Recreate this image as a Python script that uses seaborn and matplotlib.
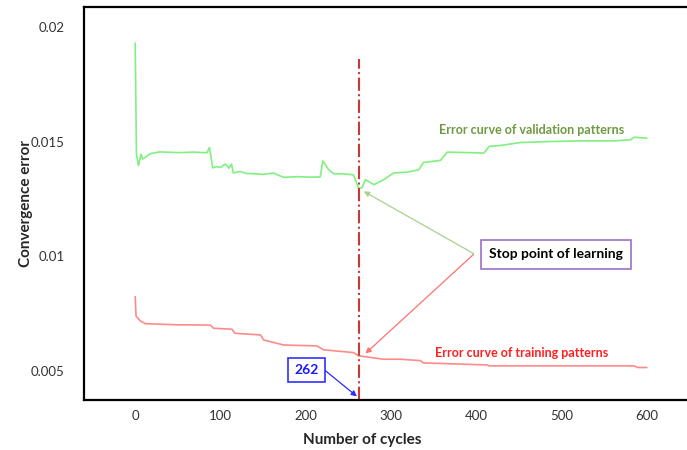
import matplotlib
matplotlib.use("Agg")
import matplotlib.pyplot as plt
import seaborn as sns
import pandas as pd

# ---- data ----
val_cycles = [0, 1.5, 4, 6.7, 9, 17.6, 28.6, 50, 70, 84, 87, 91, 95, 100, 105.6, 110, 113, 115,
              123, 130, 139, 150, 162, 174, 190, 205, 217, 220, 227, 232.7, 245, 256, 262, 266,
              270, 280, 291.5, 303, 319, 332.5, 338, 358, 366, 390, 409, 415, 428, 452, 483,
              522, 561, 581, 585, 600]
val_error = [0.0193, 0.01443, 0.01396, 0.01446, 0.01425, 0.01448, 0.01456, 0.01453, 0.01455,
             0.01452, 0.01475, 0.01386, 0.01392, 0.01388, 0.01403, 0.01385, 0.01403, 0.01364,
             0.01371, 0.01362, 0.01361, 0.01358, 0.01364, 0.01345, 0.01348, 0.01346, 0.01347,
             0.01417, 0.01378, 0.01361, 0.01360, 0.01356, 0.01297, 0.01300, 0.01335, 0.01313,
             0.01335, 0.01364, 0.01368, 0.01378, 0.0141, 0.01419, 0.01455, 0.01453, 0.01451,
             0.0148, 0.01484, 0.01497, 0.01501, 0.01504, 0.01504, 0.01509, 0.0152, 0.01516]

train_cycles = [0, 1, 6, 12, 50, 88, 92, 113.5, 117, 147, 150.6, 174, 213, 221, 256, 262, 291,
                311, 334.5, 338, 413, 415, 585, 589, 600]
train_error = [0.00825, 0.0074, 0.00719, 0.00707, 0.00702, 0.00701, 0.00687, 0.00683, 0.00665,
               0.00658, 0.00636, 0.00614, 0.0061, 0.00593, 0.00581, 0.00567, 0.00552, 0.00552,
               0.00546, 0.00536, 0.00527, 0.00523, 0.00523, 0.00516, 0.00516]

stop_cycle = 263
x_ticks = [0, 100, 200, 300, 400, 500, 600]
y_ticks = [0.005, 0.01, 0.015, 0.02]
y_tick_labels = ["0.005", "0.01", "0.015", "0.02"]

# ---- plotting ----
sns.set_style("white")
plt.rcParams["font.family"] = ["Lato", "DejaVu Sans"]

fig = plt.figure(figsize=(6.87, 4.5), dpi=100)
ax = fig.add_axes([0.1223, 0.111, 0.89, 0.873])

val_df = pd.DataFrame({"cycle": val_cycles, "error": val_error})
train_df = pd.DataFrame({"cycle": train_cycles, "error": train_error})
sns.lineplot(data=val_df, x="cycle", y="error", ax=ax, color="#80f080", lw=1.2)
sns.lineplot(data=train_df, x="cycle", y="error", ax=ax, color="#ff8a8a", lw=1.2)

ax.set_xlim(-60, 657)
ax.set_ylim(0.00374, 0.02087)
ax.set_xticks(x_ticks)
ax.set_xticklabels([str(t) for t in x_ticks], fontsize=9.5, color="#333333")
ax.set_yticks(y_ticks)
ax.set_yticklabels(y_tick_labels, fontsize=9.5, color="#333333")
ax.tick_params(axis="y", length=0, pad=14)
ax.tick_params(axis="x", length=0, pad=7)

for s in ax.spines.values():
    s.set_color("black")
    s.set_linewidth(1.6)

ax.set_xlabel("Number of cycles", fontsize=11, fontweight="bold")
ax.set_ylabel("Convergence error", fontsize=11, fontweight="bold")
ax.xaxis.set_label_coords(0.455, -0.083)
ax.yaxis.set_label_coords(-0.084, 0.50)

# stop line
ax.vlines(stop_cycle, 0.00374, 0.0186, colors="#c9393b", linestyles="dashdot", lw=1.5)

# labels
ax.text(465, 0.01552, "Error curve of validation patterns", color="#6e9a40",
        fontsize=9, fontweight="bold", ha="center", va="center")
ax.text(453, 0.00581, "Error curve of training patterns", color="#ff2020",
        fontsize=9, fontweight="bold", ha="center", va="center")

ax.text(493.5, 0.0101, "Stop point of learning", color="black", fontsize=10,
        fontweight="bold", ha="center", va="center",
        bbox=dict(boxstyle="square,pad=0.6", fc="white", ec="#9a72c8", lw=1.2))
ax.annotate("", xy=(268, 0.01284), xytext=(396.7, 0.01013),
            arrowprops=dict(arrowstyle="-|>", color="#a9d08e", lw=0.9,
                            shrinkA=0, shrinkB=0, mutation_scale=8))
ax.annotate("", xy=(270, 0.00577), xytext=(396.7, 0.01009),
            arrowprops=dict(arrowstyle="-|>", color="#ff7070", lw=0.9,
                            shrinkA=0, shrinkB=0, mutation_scale=8))

ax.text(200.5, 0.00504, "262", color="#1a1aff", fontsize=10, fontweight="bold",
        ha="center", va="center",
        bbox=dict(boxstyle="square,pad=0.45", fc="white", ec="#3030ff", lw=1.2))
ax.annotate("", xy=(260, 0.0039), xytext=(223, 0.00502),
            arrowprops=dict(arrowstyle="-|>", color="#2a2aff", lw=0.9,
                            shrinkA=0, shrinkB=0, mutation_scale=8))

fig.savefig("out.png", dpi=100)
